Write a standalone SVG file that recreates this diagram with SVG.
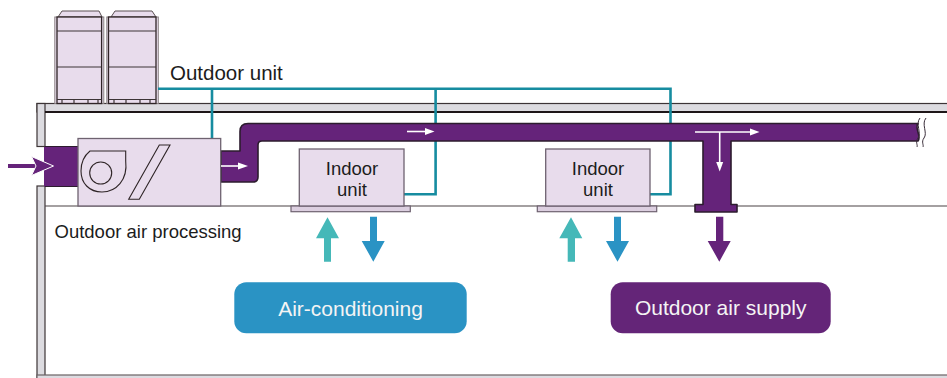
<svg xmlns="http://www.w3.org/2000/svg" width="947" height="378" viewBox="0 0 947 378">
  <style>
    .wall { fill: #dcdbe0; stroke: #3c3436; stroke-width: 1.2; }
    .unit { fill: #e8dcec; stroke: #2e2426; stroke-width: 1.3; }
    .box { fill: #e8dcec; stroke: #6e6270; stroke-width: 1.3; }
    .flange { fill: #dccfe0; stroke: #6e6270; stroke-width: 1.2; }
    .duct { fill: #65237a; stroke: #2c1c2e; stroke-width: 1.6; stroke-linejoin: round; }
    .pipe { fill: none; stroke: #168ca0; stroke-width: 2.6; stroke-linejoin: miter; }
    .flow { stroke: #ffffff; stroke-width: 1.6; fill: none; }
    .flowhead { fill: #ffffff; }
    .label { font-family: "Liberation Sans", Arial, sans-serif; fill: #1c1c1c; }
    .pill { font-family: "Liberation Sans", Arial, sans-serif; fill: #f4f4f4; font-size: 21px; text-anchor: middle; }
    .line { stroke: #3c3436; stroke-width: 1.2; fill: none; }
  </style>

  <!-- building shell: roof slab, left wall, ceiling line, floor -->
  <g id="building">
    <rect x="37" y="103.5" width="912" height="8.5" class="wall"/>
    <rect x="37" y="103.5" width="8" height="43" class="wall"/>
    <rect x="37" y="186" width="8" height="196" class="wall"/>
    <line x1="45" y1="112" x2="947" y2="112" stroke="#1e1618" stroke-width="1.8"/>
    <rect x="37" y="375" width="912" height="6" fill="#dcdbe0" stroke="#6a6264" stroke-width="1.2"/>
    <line x1="45" y1="206" x2="947" y2="206" stroke="#4a4244" stroke-width="1.1"/>
  </g>

  <!-- outdoor units on the roof -->
  <g id="outdoor-unit">
    <g>
      <polygon points="58,17 62,11 99,11 102,17" fill="#e8dcec" stroke="#5a5052" stroke-width="1"/>
      <rect x="54.8" y="17" width="49" height="86.5" fill="#e8dcec" stroke="#8a8284" stroke-width="1"/>
      <rect x="57" y="17" width="44.6" height="86.5" class="unit"/>
      <line x1="57" y1="31" x2="101.6" y2="31" class="line" stroke-width="1.6"/>
      <line x1="57" y1="67" x2="101.6" y2="67" class="line" stroke-width="1.6"/>
      <line x1="57" y1="99.5" x2="101.6" y2="99.5" class="line" stroke-width="0.9"/>
      <path d="M62 99.5V103.5M74 99.5V103.5M88 99.5V103.5M98 99.5V103.5" class="line" stroke-width="0.8"/>
    </g>
    <g>
      <polygon points="111,17 115,11 152,11 156,17" fill="#e8dcec" stroke="#5a5052" stroke-width="1"/>
      <rect x="106.8" y="17" width="51.5" height="86.5" fill="#e8dcec" stroke="#8a8284" stroke-width="1"/>
      <rect x="108.5" y="17" width="47.5" height="86.5" class="unit"/>
      <line x1="108.5" y1="31" x2="156" y2="31" class="line" stroke-width="1.6"/>
      <line x1="108.5" y1="67" x2="156" y2="67" class="line" stroke-width="1.6"/>
      <line x1="108.5" y1="99.5" x2="156" y2="99.5" class="line" stroke-width="0.9"/>
      <path d="M114 99.5V103.5M126 99.5V103.5M140 99.5V103.5M150 99.5V103.5" class="line" stroke-width="0.8"/>
    </g>
    <text x="170" y="80" class="label" font-size="20.5">Outdoor unit</text>
  </g>

  <!-- refrigerant piping -->
  <g id="connectors">
    <polyline points="158,88.8 670.5,88.8 670.5,194.3 650,194.3" class="pipe"/>
    <line x1="212" y1="88.8" x2="212" y2="138.5" class="pipe"/>
    <polyline points="435.6,88.8 435.6,194.3 404,194.3" class="pipe"/>
  </g>

  <!-- supply duct with T branch -->
  <g id="duct">
    <rect x="44" y="147" width="35" height="39.5" fill="#65237a"/>
    <line x1="45" y1="146.5" x2="78" y2="146.5" stroke="#2c1c2e" stroke-width="1.2"/>
    <line x1="45" y1="186.5" x2="78" y2="186.5" stroke="#2c1c2e" stroke-width="1.2"/>
    <path class="duct" d="M221 151 L240 151 L240 131.5 Q240 123.5 248 123.5 L918 123.5 C914 128 922 136 918 141 L731 141 L731 204.5 L737 204.5 L737 212 L695 212 L695 204.5 L703 204.5 L703 141 L262 141 Q258 141 258 145 L258 177 Q258 182 253 182 L221 182 Z"/>
    <path d="M920 118 C915 124 922 133 918 138 C915 142 918 145 917 147" fill="none" stroke="#3a2e3a" stroke-width="1"/>
    <path d="M926 118 C921 124 928 133 924 138 C921 142 924 145 923 147" fill="none" stroke="#3a2e3a" stroke-width="1"/>
    <!-- airflow arrows -->
    <line x1="407" y1="131.5" x2="426" y2="131.5" class="flow"/>
    <polygon points="425,128 434.5,131.5 425,135" class="flowhead"/>
    <line x1="695" y1="132" x2="751" y2="132" class="flow"/>
    <polygon points="750,128.5 759.5,132 750,135.5" class="flowhead"/>
    <line x1="719.7" y1="132" x2="719.7" y2="163" class="flow"/>
    <polygon points="716.2,162 719.7,171.5 723.2,162" class="flowhead"/>
  </g>

  <!-- outdoor air intake arrow -->
  <g id="intake-arrow">
    <line x1="8" y1="166" x2="36" y2="166" stroke="#65237a" stroke-width="4"/>
    <polygon points="31.5,156.5 53.5,166 31.5,175.5 36,166" fill="#65237a" stroke="#ffffff" stroke-width="1"/>
  </g>

  <!-- outdoor air processing unit -->
  <g id="air-processing-unit">
    <rect x="78" y="138.5" width="142.7" height="67.5" class="box"/>
    <path d="M90 151 L125.7 151 L125.7 161 C128 180 116 192 102 192 C89 192 81 183 81 171 C81 161 85 155 90 151 Z" fill="none" stroke="#2e2426" stroke-width="1.1"/>
    <circle cx="100.7" cy="173" r="11" fill="none" stroke="#2e2426" stroke-width="1.1"/>
    <polygon points="159.3,145 170,145 139.3,199.3 128.7,199.3" fill="none" stroke="#2e2426" stroke-width="1.1"/>
    <line x1="221" y1="166" x2="240" y2="166" class="flow"/>
    <polygon points="238,162.5 248,166 238,169.5" class="flowhead"/>
    <text x="54.5" y="237.5" class="label" font-size="18.5">Outdoor air processing</text>
  </g>

  <!-- indoor units -->
  <g id="indoor-unit-1">
    <rect x="291" y="206" width="119.3" height="5.7" class="flange"/>
    <rect x="299.3" y="149" width="104.7" height="57" class="box"/>
    <text x="352" y="175" class="label" font-size="18.5" text-anchor="middle">Indoor</text>
    <text x="352" y="195.5" class="label" font-size="18.5" text-anchor="middle">unit</text>
  </g>
  <g id="indoor-unit-2">
    <rect x="537.3" y="206" width="119.4" height="5.7" class="flange"/>
    <rect x="545.7" y="149" width="104.3" height="57" class="box"/>
    <text x="598" y="175" class="label" font-size="18.5" text-anchor="middle">Indoor</text>
    <text x="598" y="195.5" class="label" font-size="18.5" text-anchor="middle">unit</text>
  </g>

  <!-- room air arrows -->
  <g id="room-arrows">
    <polygon points="324,261.7 331,261.7 331,238.3 339,238.3 327.5,217.3 316,238.3 324,238.3" fill="#45b8b8"/>
    <polygon points="370,216.7 377,216.7 377,241 384.7,241 373.3,261.7 361.7,241 370,241" fill="#2a93c4"/>
    <polygon points="567.7,261.7 575,261.7 575,238.3 582.3,238.3 571,217.3 559.3,238.3 567.7,238.3" fill="#45b8b8"/>
    <polygon points="614,216.7 621,216.7 621,241 629,241 617.5,261.7 606,241 614,241" fill="#2a93c4"/>
    <polygon points="716,216.7 723.3,216.7 723.3,241 730.7,241 719.3,261.7 707.7,241 716,241" fill="#65237a"/>
  </g>

  <!-- legend pills -->
  <g id="air-conditioning">
    <rect x="234.3" y="282.3" width="232.4" height="51" rx="12" fill="#2a93c4"/>
    <text x="350.5" y="316" class="pill">Air-conditioning</text>
  </g>
  <g id="outdoor-air-supply">
    <rect x="610.7" y="282.3" width="220" height="51" rx="12" fill="#642578"/>
    <text x="720.7" y="315" class="pill">Outdoor air supply</text>
  </g>
</svg>
